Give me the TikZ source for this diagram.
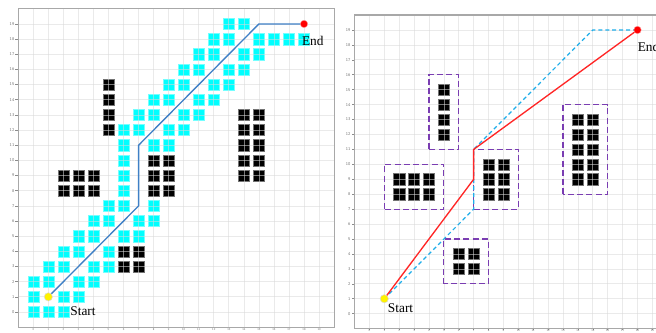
\documentclass[tikz,border=0pt]{standalone}
\usepackage{fontspec}
\setmainfont{Liberation Serif}
\usetikzlibrary{positioning}
\definecolor{gcyan}{HTML}{00FFFF}
\definecolor{gblue}{HTML}{3F80C6}
\definecolor{gsky}{HTML}{1EAEEA}
\definecolor{gred}{HTML}{FF2626}
\definecolor{gpurple}{HTML}{7A3DB2}
\definecolor{gspine}{HTML}{A8A8A8}
\tikzset{
  free/.style={rectangle,fill=gcyan,draw=gcyan!55!white,line width=0.3pt,minimum size=8.4pt,inner sep=0pt},
  wall/.style={rectangle,fill=black,draw=black!55,line width=0.3pt,minimum size=8.4pt,inner sep=0pt},
  gridln/.style={draw=black!15,opacity=0.55,line width=0.55pt},
  spine/.style={draw=gspine,line width=0.8pt},
  tick/.style={draw=black!45,line width=0.4pt},
  ticklbl/.style={font=\sffamily\fontsize{3.2}{4}\selectfont,text=black!55,inner sep=0.6pt},
  xticklbl/.style={font=\sffamily\fontsize{2.2}{2.5}\selectfont,text=black!55,inner sep=0.1pt},
  zone/.style={draw=gpurple,line width=0.9pt,dash pattern=on 4.5pt off 2.4pt},
  startdot/.style={circle,fill=yellow,draw=black!15,line width=0.4pt,minimum size=6.2pt,inner sep=0pt},
  enddot/.style={circle,fill=red,draw=red!40,line width=0.3pt,minimum size=5.6pt,inner sep=0pt},
  lbl/.style={font=\fontsize{10}{12}\selectfont,inner sep=0pt,anchor=west},
}
% obstacle cells, shared by both panels
\newcommand{\wallcells}{5/12,5/13,5/14,5/15,14/9,14/10,14/11,14/12,14/13,15/9,15/10,15/11,15/12,15/13,
  8/8,8/9,8/10,9/8,9/9,9/10,2/8,3/8,4/8,2/9,3/9,4/9,6/3,7/3,6/4,7/4}
\newcommand{\freecells}{13/19,14/19,12/18,13/18,15/18,16/18,17/18,18/18,11/17,12/17,14/17,15/17,
  10/16,11/16,13/16,14/16,9/15,10/15,12/15,13/15,8/14,9/14,11/14,12/14,7/13,8/13,10/13,11/13,
  6/12,7/12,9/12,10/12,6/11,8/11,9/11,6/10,6/9,6/8,5/7,6/7,8/7,4/6,5/6,7/6,8/6,3/5,4/5,6/5,7/5,
  2/4,3/4,5/4,1/3,2/3,4/3,5/3,0/2,1/2,3/2,4/2,0/1,2/1,3/1,0/0,1/0,2/0}
\newcommand{\axesframe}{%
  \foreach \k in {-1,...,20} {
    \draw[gridln] (\k,-1) -- (\k,20);
    \draw[gridln] (-1,\k) -- (20,\k);
  }
  \foreach \k in {0,...,19} {
    \draw[tick] (-1,\k) -- ++(-2.2pt,0) node[ticklbl,anchor=east] {\k};
    \draw[tick] (\k,-1) -- ++(0,-0.5pt) node[xticklbl,anchor=north] {\k};
  }
  \draw[spine] (-1,-1) rectangle (20,20);
}

\begin{document}
\begin{tikzpicture}[x=0.75pt,y=0.75pt]
  \useasboundingbox (0,0) rectangle (656,332);
  \clip (0,0) rectangle (656,332);
  \fill[white] (0,0) rectangle (656,332);

  % left panel: grid search
  \begin{scope}[shift={(24.98pt,15pt)},x=11.28pt,y=11.37pt]
    \foreach \cx/\cy [count=\i] in \freecells
      \node[free] (fa\i) at (\cx,\cy) {};
    \foreach \cx/\cy [count=\i] in \wallcells
      \node[wall] (wa\i) at (\cx,\cy) {};
    \axesframe
    \coordinate (sA) at (1,1);
    \coordinate (a1) at (7,7);
    \coordinate (a2) at (7,11);
    \coordinate (a3) at (15,19);
    \coordinate (eA) at (18,19);
    \draw[gblue,line width=1pt,line join=round] (sA) -- (a1) -- (a2) -- (a3) -- (eA);
    \node[startdot] (startA) at (sA) {};
    \node[enddot] (endA) at (eA) {};
    \node[lbl] (txtsA) at (2.45,0.05) {Start};
    \node[lbl] (txteA) at (17.85,17.9) {End};
  \end{scope}

  % right panel: any-angle path with zones
  \begin{scope}[shift={(277.05pt,13.73pt)},x=11.17pt,y=11.2pt]
    \foreach \cx/\cy [count=\i] in \wallcells
      \node[wall] (wb\i) at (\cx,\cy) {};
    \axesframe
    \foreach \xa/\ya/\xb/\yb [count=\i] in {4/11/6/16,13/8/16/14,7/7/10/11,1/7/5/10,5/2/8/5}
      \draw[zone] (\xa,\ya) rectangle (\xb,\yb);
    \coordinate (sB) at (1,1);
    \coordinate (b1) at (7,7);
    \coordinate (b2) at (7,11);
    \coordinate (b3) at (15,19);
    \coordinate (r1) at (7,9);
    \coordinate (eB) at (18,19);
    \draw[gsky,line width=0.9pt,dash pattern=on 3pt off 2.2pt] (sB) -- (b1) -- (b2) -- (b3) -- (eB);
    \draw[gred,line width=1pt,line join=round] (sB) -- (r1) -- (b2) -- (eB);
    \node[startdot] (startB) at (sB) {};
    \node[enddot] (endB) at (eB) {};
    \node[lbl] (txtsB) at (1.23,0.35) {Start};
    \node[lbl] (txteB) at (18.0,17.83) {End};
  \end{scope}
\end{tikzpicture}
\end{document}
